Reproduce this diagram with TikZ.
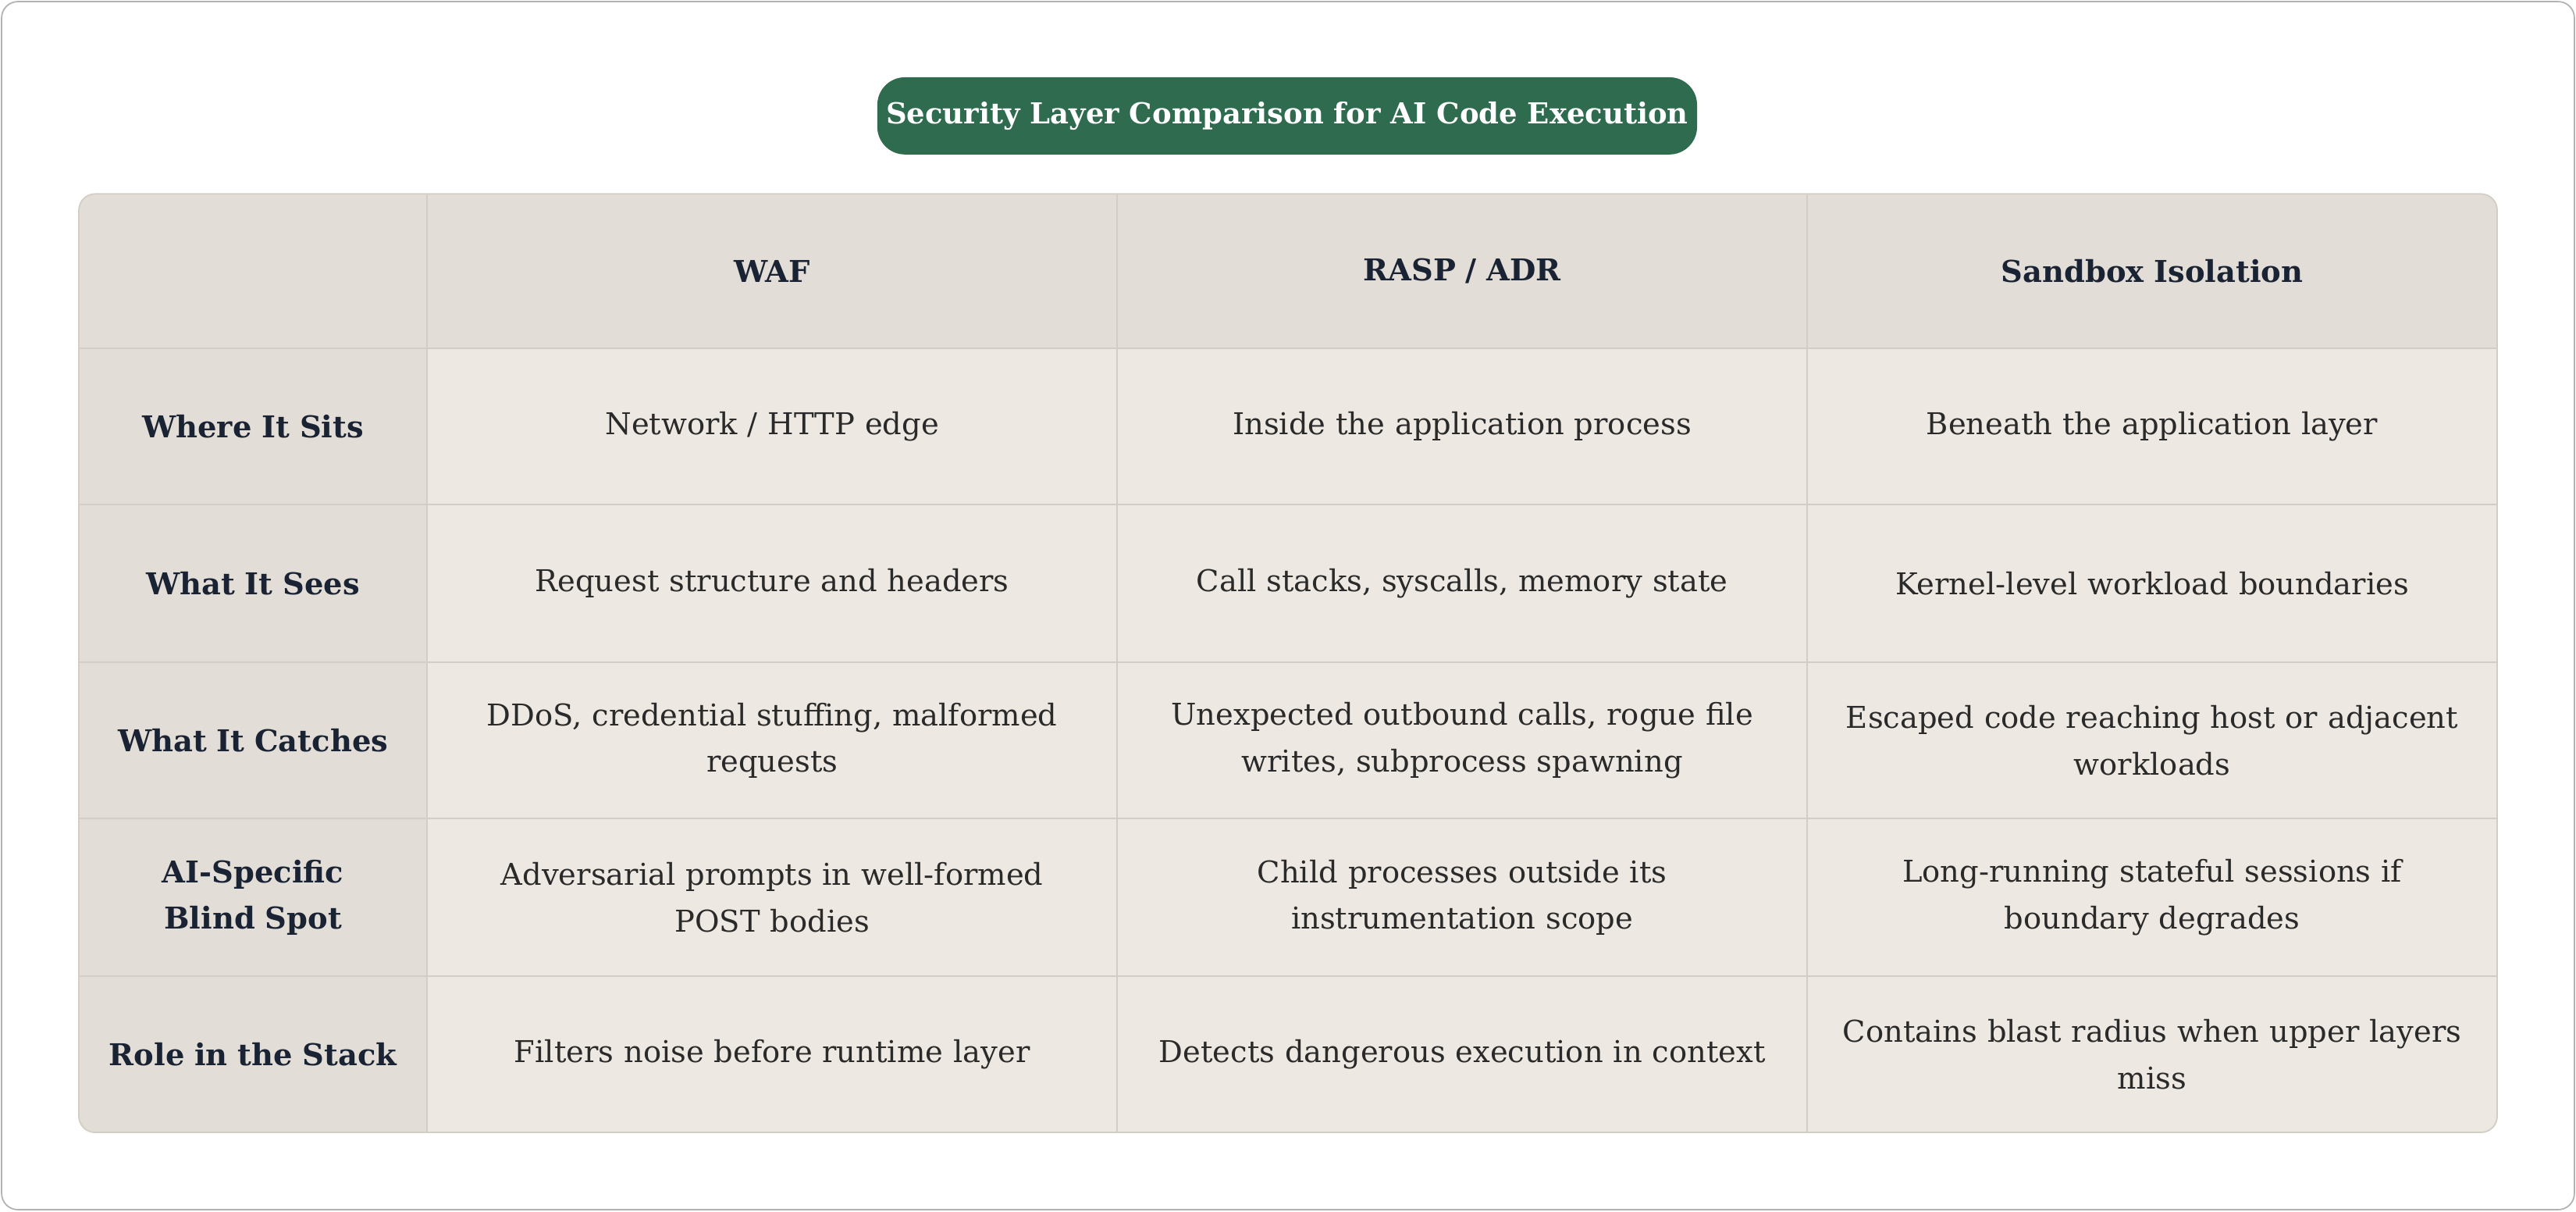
\documentclass[tikz,border=0pt]{standalone}
\usepackage{fontspec}
\setmainfont{DejaVu Serif}
\definecolor{pill}{HTML}{2E6B4F}
\definecolor{hdr}{HTML}{E2DED7}
\definecolor{cell}{HTML}{EDE9E2}
\definecolor{grid}{HTML}{D2CEC6}
\definecolor{ink}{HTML}{1A2333}
\definecolor{txt}{HTML}{2A2A2A}
\begin{document}
\begin{tikzpicture}[x=0.05cm,y=-0.05cm,
  body/.style={font=\fontsize{26}{40}\selectfont,text=txt,align=center,text width=#1},
  head/.style={font=\fontsize{26}{40}\selectfont\bfseries,text=ink,align=center,text width=#1}]
\useasboundingbox (0,0) rectangle (1568,737);
\draw[draw=gray!60,line width=1.2pt,rounded corners=14] (1,1) rectangle (1567,736);
\node[fill=pill,rounded corners=24,minimum width=499*0.05cm,minimum height=47*0.05cm,text=white,font=\fontsize{25}{30}\selectfont\bfseries] (title) at (783.5,70.5) {Security Layer Comparison for AI Code Execution};
\begin{scope}
\clip[rounded corners=14] (48,118) rectangle (1520,689);
\fill[cell] (48,118) rectangle (1520,689);
\fill[hdr] (48,118) rectangle (1520,212);
\fill[hdr] (48,118) rectangle (260,689);
\foreach \x in {260,680,1100} \draw[grid,line width=1pt] (\x,118) -- (\x,689);
\foreach \y in {212,307,403,498,594} \draw[grid,line width=1pt] (48,\y) -- (1520,\y);
\end{scope}
\draw[grid,line width=1.2pt,rounded corners=14] (48,118) rectangle (1520,689);
% header
\node[head=380*0.05cm] (h1) at (470,165) {WAF};
\node[head=380*0.05cm] (h2) at (890,165) {RASP / ADR};
\node[head=380*0.05cm] (h3) at (1310,165) {Sandbox Isolation};
\node[head=190*0.05cm] (r1) at (154,259.5) {Where It Sits};
\node[head=190*0.05cm] (r2) at (154,355) {What It Sees};
\node[head=190*0.05cm] (r3) at (154,450.5) {What It Catches};
\node[head=190*0.05cm] (r4) at (154,546) {AI-Specific Blind Spot};
\node[head=190*0.05cm] (r5) at (154,641.5) {Role in the Stack};
\node[body=390*0.05cm] (c11) at (470,259.5) {Network / HTTP edge};
\node[body=390*0.05cm] (c12) at (890,259.5) {Inside the application process};
\node[body=390*0.05cm] (c13) at (1310,259.5) {Beneath the application layer};
\node[body=390*0.05cm] (c21) at (470,355) {Request structure and headers};
\node[body=390*0.05cm] (c22) at (890,355) {Call stacks, syscalls, memory state};
\node[body=390*0.05cm] (c23) at (1310,355) {Kernel-level workload boundaries};
\node[body=390*0.05cm] (c31) at (470,450.5) {DDoS, credential stuffing, malformed\\requests};
\node[body=390*0.05cm] (c32) at (890,450.5) {Unexpected outbound calls, rogue file\\writes, subprocess spawning};
\node[body=390*0.05cm] (c33) at (1310,450.5) {Escaped code reaching host or adjacent\\workloads};
\node[body=390*0.05cm] (c41) at (470,546) {Adversarial prompts in well-formed\\POST bodies};
\node[body=390*0.05cm] (c42) at (890,546) {Child processes outside its\\instrumentation scope};
\node[body=390*0.05cm] (c43) at (1310,546) {Long-running stateful sessions if\\boundary degrades};
\node[body=390*0.05cm] (c51) at (470,641.5) {Filters noise before runtime layer};
\node[body=390*0.05cm] (c52) at (890,641.5) {Detects dangerous execution in context};
\node[body=390*0.05cm] (c53) at (1310,641.5) {Contains blast radius when upper layers\\miss};
\end{tikzpicture}
\end{document}
